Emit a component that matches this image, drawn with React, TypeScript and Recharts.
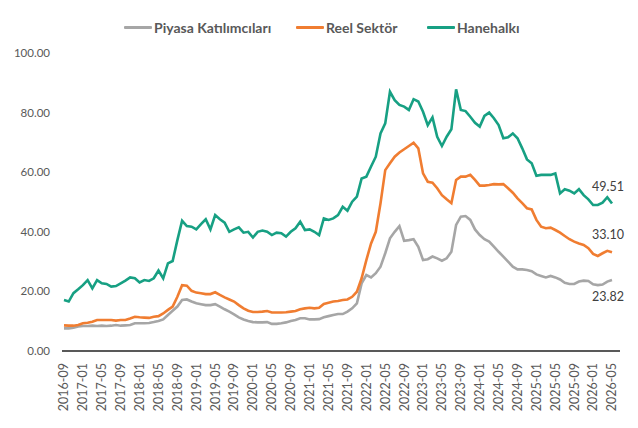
import { LineChart, Line, XAxis, YAxis } from 'recharts'

// months 2016-09 .. 2026-05
const MONTHS: string[] = []
for (let y = 2016, m = 9; y < 2026 || (y === 2026 && m <= 5); m++) {
  if (m > 12) { m = 1; y++ }
  if (y === 2026 && m > 5) break
  MONTHS.push(`${y}-${String(m).padStart(2, '0')}`)
}

const Y_TICKS = [0, 20, 40, 60, 80, 100]

const PIYASA = [
  7.6, 7.6, 7.8, 8.2, 8.4, 8.4, 8.5, 8.4, 8.5, 8.4, 8.5, 8.7, 8.5, 8.6, 8.7, 9.3, 9.3, 9.3, 9.4, 9.7,
  10.1, 10.6, 12.1, 13.5, 14.9, 17.1, 17.3, 16.6, 16.0, 15.7, 15.4, 15.4, 15.7, 14.9, 14.0, 13.2, 12.3, 11.3, 10.6, 10.1,
  9.7, 9.6, 9.6, 9.7, 9.1, 9.1, 9.3, 9.6, 10.1, 10.4, 11.0, 11.0, 10.6, 10.6, 10.7, 11.3, 11.7, 12.1, 12.4, 12.4,
  13.2, 14.3, 16.0, 22.7, 25.5, 24.7, 26.1, 28.3, 32.8, 37.8, 40.0, 41.9, 37.0, 37.2, 37.5, 35.0, 30.5, 30.8, 31.7, 31.1,
  30.3, 31.1, 33.3, 42.3, 45.1, 45.3, 44.0, 40.8, 38.9, 37.5, 36.7, 35.0, 33.3, 31.7, 30.0, 28.3, 27.4, 27.4, 27.2, 26.8,
  25.7, 25.2, 24.7, 25.2, 24.7, 24.0, 22.9, 22.5, 22.5, 23.3, 23.6, 23.5, 22.4, 22.1, 22.3, 23.3, 23.82,
]

const REEL = [
  8.6, 8.5, 8.5, 8.7, 9.3, 9.5, 9.8, 10.4, 10.4, 10.4, 10.4, 10.2, 10.4, 10.4, 10.9, 11.5, 11.3, 11.2, 11.1, 11.5,
  11.7, 12.6, 13.8, 14.9, 18.2, 22.1, 21.9, 20.2, 19.6, 19.4, 19.1, 19.1, 19.7, 18.8, 18.0, 17.3, 16.6, 15.4, 14.3, 13.5,
  13.1, 13.1, 13.2, 13.4, 12.9, 12.9, 12.9, 13.0, 13.2, 13.4, 14.0, 14.3, 14.5, 14.3, 14.5, 15.8, 16.2, 16.6, 16.8, 17.1,
  17.3, 18.2, 19.9, 24.4, 30.5, 36.1, 40.0, 49.6, 60.7, 63.0, 65.2, 66.6, 67.7, 68.8, 69.9, 68.0, 59.6, 56.8, 56.5, 54.6,
  52.3, 50.9, 49.6, 57.4, 58.5, 58.5, 59.1, 57.4, 55.5, 55.5, 55.7, 56.0, 55.9, 56.0, 54.6, 53.1, 51.2, 49.6, 47.9, 47.5,
  44.0, 41.7, 41.2, 41.4, 40.6, 39.7, 38.6, 37.5, 36.7, 36.1, 35.6, 34.5, 32.6, 31.9, 32.8, 33.6, 33.10,
]

const HANEHALKI = [
  17.1, 16.6, 19.4, 20.7, 22.1, 23.8, 21.0, 23.8, 22.7, 22.5, 21.6, 21.8, 22.7, 23.6, 24.7, 24.4, 23.0, 23.8, 23.5, 24.4,
  27.0, 24.4, 29.4, 30.2, 37.2, 43.7, 41.9, 41.7, 40.8, 42.6, 44.2, 40.8, 45.6, 44.2, 43.1, 40.0, 40.8, 41.5, 39.7, 40.0,
  38.1, 40.0, 40.4, 40.0, 38.9, 39.7, 39.5, 38.4, 40.0, 41.2, 43.4, 40.6, 40.8, 40.0, 38.9, 44.5, 44.0, 44.5, 45.6, 48.4,
  47.1, 50.1, 51.8, 57.9, 58.5, 61.9, 65.2, 73.0, 76.4, 87.0, 84.2, 82.6, 82.0, 80.9, 84.5, 83.7, 80.3, 75.8, 78.4, 71.9,
  68.8, 71.9, 74.4, 87.8, 80.9, 80.5, 78.6, 76.6, 75.3, 78.9, 80.0, 78.1, 75.8, 71.4, 71.7, 73.0, 71.4, 68.0, 64.3, 63.0,
  58.8, 59.1, 59.1, 59.1, 59.6, 52.9, 54.3, 53.8, 52.9, 54.3, 52.3, 50.9, 49.0, 49.0, 49.8, 51.6, 49.51,
]

const SERIES = [
  { key: 'piyasa', name: 'Piyasa Katılımcıları', values: PIYASA, color: '#A6A6A6', labelDy: 21 },
  { key: 'reel', name: 'Reel Sektör', values: REEL, color: '#F07D31', labelDy: -13 },
  { key: 'hane', name: 'Hanehalkı', values: HANEHALKI, color: '#17A083', labelDy: -12 },
]

const data = MONTHS.map((month, i) => ({
  month,
  piyasa: PIYASA[i],
  reel: REEL[i],
  hane: HANEHALKI[i],
}))

const FONT = 'Lato, "Open Sans", sans-serif'
const LAST = MONTHS.length - 1

const LEGEND_X = [124, 296, 427]

function XTick({ x, y, payload }: any) {
  return (
    <text
      x={0}
      y={0}
      dy="0.35em"
      textAnchor="end"
      transform={`translate(${x},${y + 4}) rotate(-90)`}
      fill="#595959"
      fontSize={12.5}
      fontFamily={FONT}
    >
      {payload.value}
    </text>
  )
}

const endLabel = (dy: number) => (props: any) => {
  if (props.index !== LAST) return null
  return (
    <text x={props.x - 4} y={props.y + dy} textAnchor="middle" fill="#404040" fontSize={12.5} fontFamily={FONT}>
      {Number(props.value).toFixed(2)}
    </text>
  )
}

export default function App() {
  return (
    <div style={{ position: 'absolute', left: 0, top: 0, width: 638, height: 428, background: '#fff', fontFamily: FONT }}>
      {SERIES.map((s, i) => (
        <div
          key={s.key}
          style={{ position: 'absolute', left: LEGEND_X[i], top: 18, display: 'flex', alignItems: 'center', height: 18 }}
        >
          <div style={{ width: 28, height: 3, background: s.color, borderRadius: 1 }} />
          <span style={{ marginLeft: 2, fontSize: 14, fontWeight: 700, color: '#595959', whiteSpace: 'nowrap' }}>
            {s.name}
          </span>
        </div>
      ))}
      <LineChart width={638} height={428} data={data} margin={{ top: 53, right: 18, bottom: 7, left: 0 }}>
        <XAxis
          dataKey="month"
          interval={3}
          height={70}
          padding={{ left: 2, right: 8 }}
          axisLine={{ stroke: '#595959', strokeWidth: 2 }}
          tickLine={false}
          tick={<XTick />}
        />
        <YAxis
          width={62}
          domain={[0, 100]}
          ticks={Y_TICKS}
          axisLine={false}
          tickLine={false}
          tickMargin={6}
          tickFormatter={(v: number) => v.toFixed(2)}
          tick={{ fill: '#595959', fontSize: 11.5, fontFamily: FONT }}
        />
        {SERIES.map((s) => (
          <Line
            key={s.key}
            dataKey={s.key}
            name={s.name}
            type="linear"
            stroke={s.color}
            strokeWidth={2.6}
            dot={false}
            activeDot={false}
            isAnimationActive={false}
            label={endLabel(s.labelDy)}
          />
        ))}
      </LineChart>
    </div>
  )
}
